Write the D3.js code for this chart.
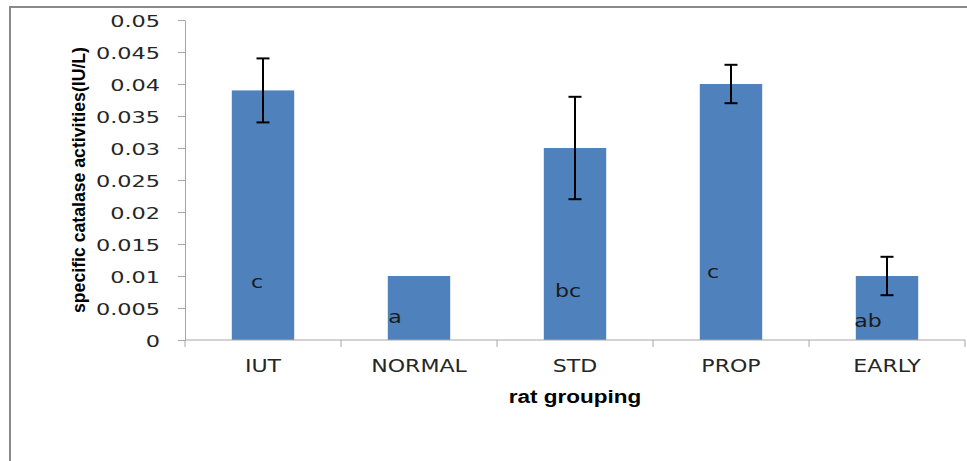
<!DOCTYPE html>
<html>
<head>
<meta charset="utf-8">
<script src="https://cdn.jsdelivr.net/npm/d3@7"></script>
<style>
  body { margin: 0; background: #fff; }
  svg { display: block; }
</style>
</head>
<body>
<div id="chart"></div>
<script>
const width = 967, height = 461;

// data
const groups = ["IUT", "NORMAL", "STD", "PROP", "EARLY"];
const means = [0.039, 0.010, 0.030, 0.040, 0.010];
const errors = [0.005, 0, 0.008, 0.003, 0.003];
const letters = ["c", "a", "bc", "c", "ab"];
const yTicks = [0, 0.005, 0.01, 0.015, 0.02, 0.025, 0.03, 0.035, 0.04, 0.045, 0.05];

// where the letters sit inside the bars (value units) and their x shift
const letterAt = [0.0090, 0.0036, 0.0077, 0.0107, 0.0030];
const letterDx = [-6, -24, -7, -18, -19];

const margin = {top: 20, right: 2, bottom: 121, left: 185};

const svg = d3.select("#chart")
	.append("svg")
	.attr("width", width)
	.attr("height", height);

// outer frame (only top and left edges show)
svg.append("path")
	.attr("d", `M10,${height} V7 H${width}`)
	.attr("fill", "none")
	.attr("stroke", "#8a8a8a")
	.attr("stroke-width", 2);

const x = d3.scaleBand()
	.domain(groups)
	.range([margin.left, width - margin.right])
	.paddingInner(0.6)
	.paddingOuter(0.3);

const y = d3.scaleLinear()
	.domain([0, 0.05])
	.range([height - margin.bottom, margin.top]);

const axisColor = "#a6a6a6";

// bars
svg.selectAll(".bar")
	.data(groups)
	.enter()
	.append("rect")
	.classed("bar", true)
	.attr("x", (d) => x(d))
	.attr("y", (d, i) => y(means[i]))
	.attr("width", x.bandwidth())
	.attr("height", (d, i) => y(0) - y(means[i]))
	.attr("fill", "#4f81bd");

// y axis
const yAxis = svg.append("g")
	.attr("transform", `translate(${margin.left},0)`)
	.call(d3.axisLeft(y).tickValues(yTicks).tickSize(7).tickSizeOuter(0)
		.tickFormat((d) => d === 0 ? "0" : String(+d.toFixed(3))));
yAxis.select(".domain").attr("stroke", axisColor);
yAxis.selectAll(".tick line").attr("stroke", axisColor);
yAxis.selectAll(".tick text")
	.attr("x", null)
	.attr("dy", null)
	.attr("fill", "#262626")
	.style("font-family", "DejaVu Sans")
	.style("font-size", "16px")
	.attr("transform", "translate(-25,6) scale(1.4,1)")
	.attr("text-anchor", "end");

// x axis: ticks sit between the groups
const xAxisY = y(0);
const step = x.step();
const edges = d3.range(groups.length + 1).map((i) => margin.left + i * step);
svg.append("line")
	.attr("x1", margin.left).attr("x2", width - margin.right)
	.attr("y1", xAxisY).attr("y2", xAxisY)
	.attr("stroke", axisColor);
svg.selectAll(".xtick")
	.data(edges)
	.enter()
	.append("line")
	.attr("x1", (d) => d).attr("x2", (d) => d)
	.attr("y1", xAxisY).attr("y2", xAxisY + 7)
	.attr("stroke", axisColor);

svg.selectAll(".xlabel")
	.data(groups)
	.enter()
	.append("text")
	.attr("transform", (d) => `translate(${x(d) + x.bandwidth() / 2},${xAxisY + 32}) scale(1.3,1)`)
	.attr("text-anchor", "middle")
	.attr("fill", "#262626")
	.style("font-family", "DejaVu Sans")
	.style("font-size", "17px")
	.text((d) => d);

// error bars
const errG = svg.selectAll(".err")
	.data(groups.filter((d, i) => errors[i] > 0))
	.enter()
	.append("g")
	.attr("stroke", "#000")
	.attr("stroke-width", 2);
errG.each(function(d) {
	const i = groups.indexOf(d);
	const cx = x(d) + x.bandwidth() / 2;
	const g = d3.select(this);
	const lo = y(means[i] - errors[i]), hi = y(means[i] + errors[i]);
	g.append("line").attr("x1", cx).attr("x2", cx).attr("y1", lo).attr("y2", hi);
	g.append("line").attr("x1", cx - 6.5).attr("x2", cx + 6.5).attr("y1", lo).attr("y2", lo);
	g.append("line").attr("x1", cx - 6.5).attr("x2", cx + 6.5).attr("y1", hi).attr("y2", hi);
});

// significance letters
svg.selectAll(".letter")
	.data(groups)
	.enter()
	.append("text")
	.attr("transform", (d, i) => `translate(${x(d) + x.bandwidth() / 2 + letterDx[i]},${y(letterAt[i]) + 6}) scale(1.3,1)`)
	.attr("text-anchor", "middle")
	.attr("fill", "#1a1a1a")
	.style("font-family", "DejaVu Sans")
	.style("font-size", "17px")
	.text((d, i) => letters[i]);

// axis titles
svg.append("text")
	.attr("transform", `translate(85,180) rotate(-90)`)
	.attr("text-anchor", "middle")
	.attr("fill", "#000")
	.attr("textLength", 266)
	.attr("lengthAdjust", "spacingAndGlyphs")
	.style("font-family", "Liberation Sans")
	.style("font-weight", "bold")
	.style("font-size", "18px")
	.text("specific catalase activities(IU/L)");

svg.append("text")
	.attr("transform", `translate(${(margin.left + width - margin.right) / 2},403) scale(1.25,1)`)
	.attr("text-anchor", "middle")
	.attr("fill", "#000")
	.style("font-family", "Liberation Sans")
	.style("font-weight", "bold")
	.style("font-size", "18px")
	.text("rat grouping");
</script>
</body>
</html>
